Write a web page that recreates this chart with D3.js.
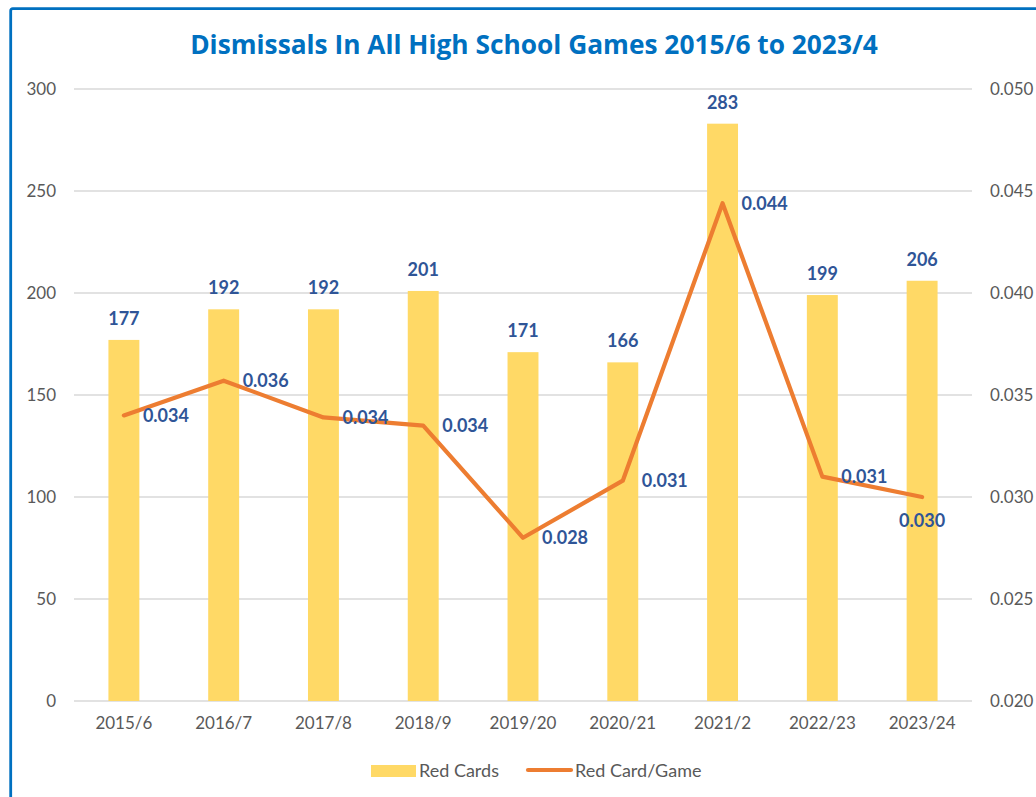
<!DOCTYPE html>
<html>
<head>
<meta charset="utf-8">
<script src="https://cdn.jsdelivr.net/npm/d3@7"></script>
<style>
  body { margin: 0; background: #fff; }
  text { font-family: Lato, "Open Sans", sans-serif; }
</style>
</head>
<body>
<svg id="viz" width="1036" height="797"></svg>
<script>
  // seasons on the x axis
  let seasons = ["2015/6", "2016/7", "2017/8", "2018/9", "2019/20", "2020/21", "2021/2", "2022/23", "2023/24"];
  // red cards per season (bars, left axis)
  let redCards = [177, 192, 192, 201, 171, 166, 283, 199, 206];
  // red cards per game (line, right axis)
  let perGame = [0.034, 0.0357, 0.0339, 0.0335, 0.028, 0.0308, 0.0444, 0.031, 0.030];
  let leftTicks = [0, 50, 100, 150, 200, 250, 300];
  let rightTicks = [0.020, 0.025, 0.030, 0.035, 0.040, 0.045, 0.050];

  let plotLeft = 74, plotRight = 972, plotTop = 89, plotBottom = 701;
  let labelColor = "#2F5597";
  let tickColor = "#595959";

  let svg = d3.select("#viz");

  // outer frame, only top and left edge visible in the reference
  svg.append("rect")
    .attr("x", 10.7).attr("y", 8.7)
    .attr("width", 1100).attr("height", 900)
    .attr("rx", 2)
    .attr("fill", "none")
    .attr("stroke", "#0070C0")
    .attr("stroke-width", 2.8);

  svg.append("text")
    .attr("x", 534).attr("y", 54)
    .attr("text-anchor", "middle")
    .attr("fill", "#0070C0")
    .attr("font-size", 26.3)
    .attr("font-weight", "bold")
    .style("font-family", "'Open Sans', Lato, sans-serif")
    .text("Dismissals In All High School Games 2015/6 to 2023/4");

  let xScale = d3.scaleBand().domain(seasons).range([plotLeft, plotRight])
    .paddingInner(0.69).paddingOuter(0.345);
  let yLeft = d3.scaleLinear().domain([0, 300]).range([plotBottom, plotTop]);
  let yRight = d3.scaleLinear().domain([0.02, 0.05]).range([plotBottom, plotTop]);

  // gridlines
  svg.append("g")
    .selectAll("line")
    .data(leftTicks)
    .enter()
    .append("line")
    .attr("x1", plotLeft).attr("x2", plotRight)
    .attr("y1", d => yLeft(d)).attr("y2", d => yLeft(d))
    .attr("stroke", "#d9d9d9")
    .attr("stroke-width", 1.3);

  // left axis
  let leftAxis = svg.append("g")
    .attr("transform", `translate(${plotLeft}, 0)`)
    .call(d3.axisLeft(yLeft).tickValues(leftTicks).tickSize(0).tickPadding(18));
  // right axis
  let rightAxis = svg.append("g")
    .attr("transform", `translate(${plotRight}, 0)`)
    .call(d3.axisRight(yRight).tickValues(rightTicks).tickFormat(d3.format(".3f")).tickSize(0).tickPadding(18));
  // bottom axis
  let bottomAxis = svg.append("g")
    .attr("transform", `translate(0, ${plotBottom})`)
    .call(d3.axisBottom(xScale).tickSize(0).tickPadding(16));

  [leftAxis, rightAxis, bottomAxis].forEach(a => {
    a.select(".domain").remove();
    a.selectAll("text")
      .attr("fill", tickColor)
      .attr("font-size", 17)
      .style("font-family", "Lato, 'Open Sans', sans-serif");
  });

  // bars
  svg.selectAll(".bar")
    .data(redCards)
    .enter()
    .append("rect")
    .attr("class", "bar")
    .attr("x", (d, i) => xScale(seasons[i]))
    .attr("y", d => yLeft(d))
    .attr("width", xScale.bandwidth())
    .attr("height", d => yLeft(0) - yLeft(d))
    .attr("fill", "#FFD966");

  svg.selectAll(".barLabel")
    .data(redCards)
    .enter()
    .append("text")
    .attr("class", "barLabel")
    .attr("x", (d, i) => xScale(seasons[i]) + xScale.bandwidth() / 2)
    .attr("y", d => yLeft(d) - 15)
    .attr("text-anchor", "middle")
    .attr("fill", labelColor)
    .attr("font-size", 18)
    .attr("font-weight", "bold")
    .text(d => d);

  // line
  let cx = i => xScale(seasons[i]) + xScale.bandwidth() / 2;
  let line = d3.line()
    .x((d, i) => cx(i))
    .y(d => yRight(d));

  svg.append("path")
    .datum(perGame)
    .attr("d", line)
    .attr("fill", "none")
    .attr("stroke", "#ED7D31")
    .attr("stroke-width", 4.2)
    .attr("stroke-linejoin", "round")
    .attr("stroke-linecap", "round");

  // line labels: right of the point, last one below it
  svg.selectAll(".lineLabel")
    .data(perGame)
    .enter()
    .append("text")
    .attr("class", "lineLabel")
    .attr("x", (d, i) => i == perGame.length - 1 ? cx(i) : cx(i) + 19)
    .attr("y", (d, i) => i == perGame.length - 1 ? yRight(d) + 24 : yRight(d))
    .attr("dy", "0.36em")
    .attr("text-anchor", (d, i) => i == perGame.length - 1 ? "middle" : "start")
    .attr("fill", labelColor)
    .attr("font-size", 18)
    .attr("font-weight", "bold")
    .text(d => d3.format(".3f")(d));

  // legend
  let legend = svg.append("g");
  legend.append("rect")
    .attr("x", 371).attr("y", 765)
    .attr("width", 45).attr("height", 12)
    .attr("fill", "#FFD966");
  legend.append("text")
    .attr("x", 419).attr("y", 771).attr("dy", "0.35em")
    .attr("fill", tickColor).attr("font-size", 18)
    .text("Red Cards");
  legend.append("line")
    .attr("x1", 528).attr("x2", 571)
    .attr("y1", 770).attr("y2", 770)
    .attr("stroke", "#ED7D31").attr("stroke-width", 4.2)
    .attr("stroke-linecap", "round");
  legend.append("text")
    .attr("x", 575).attr("y", 771).attr("dy", "0.35em")
    .attr("fill", tickColor).attr("font-size", 18)
    .text("Red Card/Game");
</script>
</body>
</html>
